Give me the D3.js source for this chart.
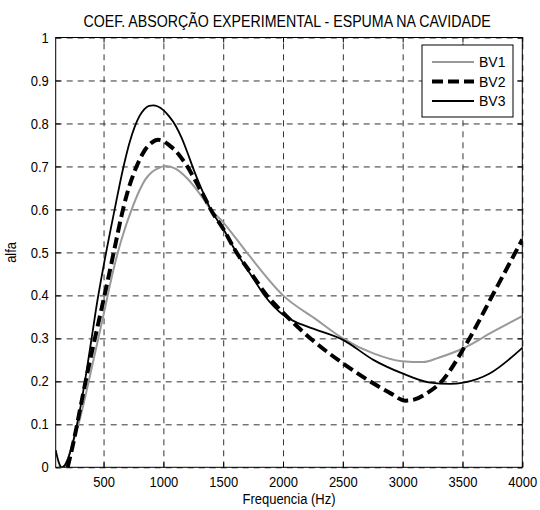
<!DOCTYPE html>
<html>
<head>
<meta charset="utf-8">
<script src="https://cdn.jsdelivr.net/npm/d3@7"></script>
<style>
  body { margin: 0; background: #fff; }
  text { font-family: "Liberation Sans", Arial, Helvetica, sans-serif; fill: #000; }
</style>
</head>
<body>
<svg id="chart" width="540" height="510"></svg>
<script>
// Axis ticks
const xTicks = [500, 1000, 1500, 2000, 2500, 3000, 3500, 4000];
const yTicks = [0, 0.1, 0.2, 0.3, 0.4, 0.5, 0.6, 0.7, 0.8, 0.9, 1];

// Series names
const seriesNames = ["BV1", "BV2", "BV3"];

// BV1 – measured absorption coefficient
const freqBV1 = [120, 150, 190, 234, 300, 400, 500, 582, 650, 735, 800, 850, 900, 950, 1022, 1100, 1200, 1300, 1395, 1500, 1600, 1725, 2000, 2282, 2500, 2755, 2993, 3174, 3300, 3508, 3759, 4000];
const alfaBV1 = [0.002, 0.0, 0.012, 0.048, 0.11, 0.23, 0.355, 0.459, 0.53, 0.60, 0.644, 0.67, 0.686, 0.695, 0.701, 0.695, 0.672, 0.638, 0.60, 0.57, 0.535, 0.49, 0.40, 0.343, 0.30, 0.265, 0.247, 0.245, 0.255, 0.277, 0.316, 0.352];

// BV2
const freqBV2 = [200, 250, 300, 350, 400, 500, 554, 600, 650, 700, 750, 800, 850, 900, 955, 1000, 1050, 1100, 1150, 1200, 1250, 1300, 1350, 1395, 1500, 1600, 1750, 1850, 2000, 2250, 2500, 2750, 2900, 3020, 3100, 3200, 3313, 3536, 3760, 4000];
const alfaBV2 = [0.0, 0.06, 0.13, 0.2, 0.265, 0.39, 0.459, 0.52, 0.585, 0.64, 0.682, 0.715, 0.74, 0.755, 0.762, 0.759, 0.749, 0.737, 0.72, 0.70, 0.676, 0.65, 0.625, 0.60, 0.555, 0.505, 0.445, 0.405, 0.36, 0.295, 0.242, 0.196, 0.172, 0.155, 0.158, 0.172, 0.196, 0.289, 0.405, 0.53];

// BV3
const freqBV3 = [100, 125, 150, 175, 200, 250, 300, 350, 400, 450, 500, 600, 640, 680, 720, 760, 800, 840, 880, 915, 950, 1000, 1050, 1100, 1150, 1200, 1250, 1300, 1350, 1395, 1500, 1600, 1750, 1850, 2000, 2100, 2226, 2505, 2755, 2993, 3230, 3397, 3508, 3731, 4000];
const alfaBV3 = [0.04, 0.012, 0.0, 0.004, 0.018, 0.065, 0.13, 0.21, 0.30, 0.39, 0.468, 0.61, 0.665, 0.715, 0.758, 0.792, 0.817, 0.833, 0.841, 0.842, 0.840, 0.831, 0.816, 0.796, 0.768, 0.733, 0.695, 0.660, 0.628, 0.60, 0.555, 0.505, 0.44, 0.398, 0.355, 0.339, 0.325, 0.296, 0.25, 0.219, 0.197, 0.194, 0.197, 0.219, 0.278];

const svg = d3.select("#chart");
const W = 540, H = 510;
const margin = { left: 55.7, right: W - 522.3, top: 37.5, bottom: H - 467.3 };
const x = d3.scaleLinear().domain([100, 4000]).range([margin.left, W - margin.right]);
const y = d3.scaleLinear().domain([0, 1]).range([H - margin.bottom, margin.top]);
const x0 = x.range()[0], x1 = x.range()[1], y0 = y.range()[0], y1 = y.range()[1];
const stretch = 1.18; // tall, narrow lettering

// plot-area clip
svg.append("defs").append("clipPath").attr("id", "plotClip")
  .append("rect").attr("x", x0).attr("y", y1).attr("width", x1 - x0).attr("height", y0 - y1);

// dashed grid, built from full-length axis ticks
const gridX = svg.append("g").attr("class", "grid")
  .attr("transform", `translate(0,${y0})`)
  .call(d3.axisBottom(x).tickValues(xTicks).tickSize(-(y0 - y1)).tickFormat(""));
const gridY = svg.append("g").attr("class", "grid")
  .attr("transform", `translate(${x0},0)`)
  .call(d3.axisLeft(y).tickValues(yTicks).tickSize(-(x1 - x0)).tickFormat(""));
[gridX, gridY].forEach(g => {
  g.select(".domain").remove();
  g.selectAll(".tick line")
    .attr("stroke", "#333").attr("stroke-width", 1).attr("stroke-dasharray", "6,5");
});

// axes with inward ticks
const fmt = d3.format("~g");
const tickLen = 5;
const gx = svg.append("g").attr("transform", `translate(0,${y0})`)
  .call(d3.axisBottom(x).tickValues(xTicks).tickSizeInner(-tickLen).tickSizeOuter(0).tickPadding(7.7).tickFormat(fmt));
const gy = svg.append("g").attr("transform", `translate(${x0},0)`)
  .call(d3.axisLeft(y).tickValues(yTicks).tickSizeInner(-tickLen).tickSizeOuter(0).tickPadding(7).tickFormat(fmt));
const gxt = svg.append("g").attr("transform", `translate(0,${y1})`)
  .call(d3.axisTop(x).tickValues(xTicks).tickSizeInner(-tickLen).tickSizeOuter(0).tickFormat(""));
const gyr = svg.append("g").attr("transform", `translate(${x1},0)`)
  .call(d3.axisRight(y).tickValues(yTicks).tickSizeInner(-tickLen).tickSizeOuter(0).tickFormat(""));
[gx, gy, gxt, gyr].forEach(g => {
  g.select(".domain").remove();
  g.selectAll("line").attr("stroke", "#000");
  g.selectAll("text").attr("font-size", 13).attr("font-family", '"Liberation Sans", Arial, sans-serif')
    .attr("fill", "#000").attr("transform", `scale(1,${stretch})`);
});
gy.selectAll("text").attr("dy", "0.30em");

// box
svg.append("rect").attr("x", x0).attr("y", y1).attr("width", x1 - x0).attr("height", y0 - y1)
  .attr("fill", "none").attr("stroke", "#000").attr("stroke-width", 1);

// curves
const styles = {
  BV1: { stroke: "#999", width: 2, dash: null },
  BV2: { stroke: "#000", width: 4, dash: "11,5" },
  BV3: { stroke: "#000", width: 1.8, dash: null }
};
const series = [
  { name: "BV1", f: freqBV1, a: alfaBV1 },
  { name: "BV2", f: freqBV2, a: alfaBV2 },
  { name: "BV3", f: freqBV3, a: alfaBV3 }
];
const line = d3.line().x(d => x(d[0])).y(d => y(d[1])).curve(d3.curveMonotoneX);
const plot = svg.append("g").attr("clip-path", "url(#plotClip)");
series.forEach(s => {
  const st = styles[s.name];
  plot.append("path").datum(d3.zip(s.f, s.a))
    .attr("d", line).attr("fill", "none")
    .attr("stroke", st.stroke).attr("stroke-width", st.width)
    .attr("stroke-dasharray", st.dash).attr("stroke-linejoin", "round");
});

// legend
const lg = svg.append("g");
lg.append("rect").attr("x", 422).attr("y", 45).attr("width", 91).attr("height", 72)
  .attr("fill", "#fff").attr("stroke", "#000").attr("stroke-width", 1);
seriesNames.forEach((n, i) => {
  const st = styles[n];
  const yy = 62 + i * 19.5;
  lg.append("line").attr("x1", 432).attr("x2", 474).attr("y1", yy).attr("y2", yy)
    .attr("stroke", st.stroke).attr("stroke-width", st.width).attr("stroke-dasharray", st.dash);
  lg.append("text").attr("transform", `translate(479,${yy}) scale(1,1.08)`).attr("dy", "0.36em")
    .attr("font-size", 14).text(n);
});

// titles
svg.append("text").attr("transform", `translate(${(x0 + x1) / 2 - 2},27) scale(1,1.16)`)
  .attr("text-anchor", "middle").attr("font-size", 14.2)
  .text("COEF. ABSORÇÃO EXPERIMENTAL - ESPUMA NA CAVIDADE");
svg.append("text").attr("transform", `translate(${(x0 + x1) / 2},504) scale(1,${stretch})`)
  .attr("text-anchor", "middle").attr("font-size", 13).text("Frequencia (Hz)");
svg.append("text").attr("transform", `translate(16,${(y0 + y1) / 2}) rotate(-90) scale(1,${stretch})`)
  .attr("text-anchor", "middle").attr("font-size", 13).text("alfa");
</script>
</body>
</html>
